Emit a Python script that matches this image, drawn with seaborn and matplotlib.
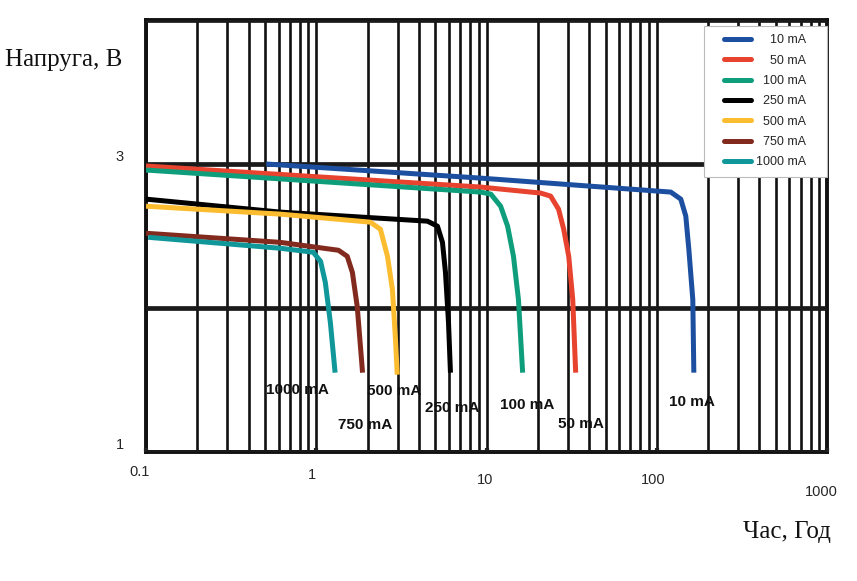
import matplotlib
matplotlib.use("Agg")
import matplotlib.pyplot as plt
import matplotlib.transforms as mtransforms
from matplotlib.legend_handler import HandlerLine2D
import pandas as pd
import numpy as np
import seaborn as sns

# Discharge curves: time (hours) and voltage (V)
labels = ['10 mA', '50 mA', '100 mA', '250 mA', '500 mA', '750 mA', '1000 mA']
colors = ['#1d4fa0', '#e8432e', '#0f9e7c', '#000000', '#fbbc30', '#832a1e', '#10979a']

t_10 = [0.508, 9.22, 120.9, 138.4, 148.1, 154.3, 162.8, 165.1]
v_10 = [3.000, 2.902, 2.805, 2.756, 2.638, 2.408, 2.059, 1.551]

t_50 = [0.1, 9.22, 20.8, 23.8, 26.5, 28.4, 30.4, 32.1, 33.4]
v_50 = [2.986, 2.840, 2.798, 2.777, 2.686, 2.547, 2.359, 2.059, 1.551]

t_100 = [0.1, 9.22, 10.6, 12.1, 13.3, 14.4, 15.4, 16.3]
v_100 = [2.958, 2.805, 2.791, 2.707, 2.568, 2.359, 2.059, 1.551]

t_250 = [0.1, 0.614, 4.50, 5.15, 5.51, 5.74, 5.98, 6.14]
v_250 = [2.756, 2.666, 2.603, 2.568, 2.456, 2.247, 1.899, 1.551]

t_500 = [0.1, 0.614, 2.08, 2.38, 2.62, 2.80, 2.92, 2.99]
v_500 = [2.707, 2.652, 2.596, 2.547, 2.359, 2.129, 1.780, 1.537]

t_750 = [0.1, 0.614, 1.35, 1.52, 1.63, 1.74, 1.87]
v_750 = [2.519, 2.456, 2.401, 2.359, 2.247, 2.010, 1.551]

t_1000 = [0.103, 0.614, 0.96, 1.06, 1.13, 1.21, 1.29]
v_1000 = [2.491, 2.415, 2.387, 2.324, 2.178, 1.899, 1.551]

times = [t_10, t_50, t_100, t_250, t_500, t_750, t_1000]
volts = [v_10, v_50, v_100, v_250, v_500, v_750, v_1000]

# where the curve names sit under the curves
label_x = [160.6, 35.7, 17.4, 6.31, 2.88, 1.94, 0.773]
label_y = [1.348, 1.195, 1.328, 1.307, 1.425, 1.188, 1.432]

legend_labels = ['    10 mA    ', '    50 mA    ', '  100 mA    ', '  250 mA    ',
                 '  500 mA    ', '  750 mA    ', '1000 mA    ']

xtick_vals = [0.1, 1, 10, 100, 1000]
xtick_text = ['0.1', '1', '10', '100', '1000']
xtick_pads = [9.0, 11.5, 15.0, 15.0, 23.5]
xtick_shift = [-6, -4, -1, -4, -6]   # px, labels sit a bit left of their ticks

sns.set_theme(style="white")
plt.rcParams['font.family'] = ['Liberation Sans', 'DejaVu Sans']

fig = plt.figure(figsize=(8.57, 5.81), dpi=100)
ax = fig.add_axes([0.1704, 0.222, 0.7946, 0.7436])

for name, col, t, v in zip(labels, colors, times, volts):
    df = pd.DataFrame({'t': t, 'v': v})
    sns.lineplot(data=df, x='t', y='v', sort=False, estimator=None,
                 color=col, lw=3.6, ax=ax, zorder=3,
                 solid_capstyle='butt', solid_joinstyle='round')

ax.set_xscale('log')
ax.set_xlim(0.1, 1000)
ax.set_ylim(1, 4)
ax.set_xlabel('')
ax.set_ylabel('')

# grid: every log minor position vertically, heavy lines at 2 and 3 V
ax.set_axisbelow(False)
ax.xaxis.set_minor_locator(matplotlib.ticker.LogLocator(base=10, subs=np.arange(2, 10)))
ax.xaxis.set_minor_formatter(matplotlib.ticker.NullFormatter())
ax.grid(True, which='both', axis='x', color='#111111', lw=1.9)
ax.set_yticks([1, 2, 3, 4])
ax.set_yticklabels(['1', '', '3', ''])
ax.grid(True, which='major', axis='y', color='#1a1a1a', lw=3.4)

ax.set_xticks(xtick_vals)
ax.set_xticklabels(xtick_text)
ax.tick_params(axis='x', which='major', direction='in', length=3, width=3,
               color='#222222', labelsize=10.5, bottom=True)
ax.tick_params(axis='x', which='minor', length=0)
ax.tick_params(axis='y', length=0, pad=16, labelsize=10.5)
for tick, p, dx in zip(ax.xaxis.get_major_ticks(), xtick_pads, xtick_shift):
    tick.set_pad(p)
    off = mtransforms.ScaledTranslation(dx / 100, 0, fig.dpi_scale_trans)
    tick.label1.set_transform(tick.label1.get_transform() + off)
for lbl in ax.get_yticklabels():
    lbl.set_verticalalignment('bottom')

for sp in ax.spines.values():
    sp.set_visible(True)
    sp.set_color('#111111')
    sp.set_linewidth(2.8)

for name, x, y in zip(labels, label_x, label_y):
    ax.text(x, y, name, ha='center', va='center', fontsize=11,
            fontweight='bold', color='#111111', zorder=2)

handles = [plt.Line2D([], [], color=c, lw=3.6) for c in colors]
leg = ax.legend(handles, legend_labels, loc='upper right',
                bbox_to_anchor=(1.0, 0.986), borderaxespad=0,
                fontsize=9, handlelength=3.1, labelspacing=0.67,
                handletextpad=0.4, borderpad=0.65, fancybox=False,
                frameon=True, framealpha=1.0,
                handler_map={plt.Line2D: HandlerLine2D(xpad=0.96)})
leg.get_frame().set_edgecolor('#bbbbbb')
leg.get_frame().set_linewidth(0.8)
leg.set_zorder(5)

fig.text(5 / 857, 1 - 60 / 581, 'Напруга, B', family=['Liberation Serif', 'DejaVu Serif'],
         fontsize=18, va='center', ha='left', color='#111111')
fig.text(831 / 857, 1 - 532 / 581, 'Час, Год', family=['Liberation Serif', 'DejaVu Serif'],
         fontsize=18, va='center', ha='right', color='#111111')

fig.savefig('out.png', dpi=100)
